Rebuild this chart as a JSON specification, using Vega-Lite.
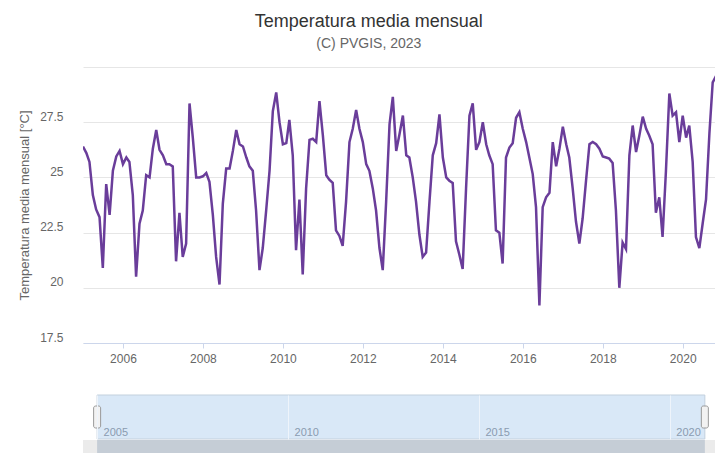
{
  "$schema": "https://vega.github.io/schema/vega-lite/v6.json",
  "background": "white",
  "padding": {"left": 18, "top": 13, "right": 0, "bottom": 0},
  "config": {"view": {"stroke": null}, "font": "Liberation Sans"},
  "title": {
    "text": "Temperatura media mensual",
    "subtitle": "(C) PVGIS, 2023",
    "anchor": "middle",
    "dx": 2,
    "fontSize": 18,
    "fontWeight": "normal",
    "color": "#333333",
    "subtitleFontSize": 14,
    "subtitleColor": "#666666",
    "subtitlePadding": 6,
    "offset": 16
  },
  "data": {"values": [
    {"date":"2005-01-01","t":26.4},{"date":"2005-02-01","t":26.1},{"date":"2005-03-01","t":25.7},{"date":"2005-04-01","t":24.2},{"date":"2005-05-01","t":23.55},{"date":"2005-06-01","t":23.2},{"date":"2005-07-01","t":20.9},{"date":"2005-08-01","t":24.7},{"date":"2005-09-01","t":23.3},{"date":"2005-10-01","t":25.3},{"date":"2005-11-01","t":25.95},{"date":"2005-12-01","t":26.2},
    {"date":"2006-01-01","t":25.6},{"date":"2006-02-01","t":25.9},{"date":"2006-03-01","t":25.7},{"date":"2006-04-01","t":24.2},{"date":"2006-05-01","t":20.5},{"date":"2006-06-01","t":22.9},{"date":"2006-07-01","t":23.5},{"date":"2006-08-01","t":25.1},{"date":"2006-09-01","t":25.0},{"date":"2006-10-01","t":26.3},{"date":"2006-11-01","t":27.15},{"date":"2006-12-01","t":26.25},
    {"date":"2007-01-01","t":26.0},{"date":"2007-02-01","t":25.6},{"date":"2007-03-01","t":25.6},{"date":"2007-04-01","t":25.5},{"date":"2007-05-01","t":21.2},{"date":"2007-06-01","t":23.4},{"date":"2007-07-01","t":21.4},{"date":"2007-08-01","t":22.0},{"date":"2007-09-01","t":28.35},{"date":"2007-10-01","t":26.8},{"date":"2007-11-01","t":25.0},{"date":"2007-12-01","t":25.0},
    {"date":"2008-01-01","t":25.05},{"date":"2008-02-01","t":25.2},{"date":"2008-03-01","t":24.8},{"date":"2008-04-01","t":23.3},{"date":"2008-05-01","t":21.4},{"date":"2008-06-01","t":20.15},{"date":"2008-07-01","t":23.8},{"date":"2008-08-01","t":25.4},{"date":"2008-09-01","t":25.4},{"date":"2008-10-01","t":26.2},{"date":"2008-11-01","t":27.15},{"date":"2008-12-01","t":26.5},
    {"date":"2009-01-01","t":26.4},{"date":"2009-02-01","t":25.9},{"date":"2009-03-01","t":25.5},{"date":"2009-04-01","t":25.3},{"date":"2009-05-01","t":23.5},{"date":"2009-06-01","t":20.8},{"date":"2009-07-01","t":21.8},{"date":"2009-08-01","t":23.5},{"date":"2009-09-01","t":25.3},{"date":"2009-10-01","t":28.0},{"date":"2009-11-01","t":28.85},{"date":"2009-12-01","t":27.5},
    {"date":"2010-01-01","t":26.5},{"date":"2010-02-01","t":26.55},{"date":"2010-03-01","t":27.6},{"date":"2010-04-01","t":26.0},{"date":"2010-05-01","t":21.7},{"date":"2010-06-01","t":24.0},{"date":"2010-07-01","t":20.6},{"date":"2010-08-01","t":24.5},{"date":"2010-09-01","t":26.7},{"date":"2010-10-01","t":26.75},{"date":"2010-11-01","t":26.6},{"date":"2010-12-01","t":28.45},
    {"date":"2011-01-01","t":26.9},{"date":"2011-02-01","t":25.1},{"date":"2011-03-01","t":24.9},{"date":"2011-04-01","t":24.75},{"date":"2011-05-01","t":22.6},{"date":"2011-06-01","t":22.35},{"date":"2011-07-01","t":21.9},{"date":"2011-08-01","t":23.9},{"date":"2011-09-01","t":26.6},{"date":"2011-10-01","t":27.2},{"date":"2011-11-01","t":28.05},{"date":"2011-12-01","t":27.2},
    {"date":"2012-01-01","t":26.6},{"date":"2012-02-01","t":25.6},{"date":"2012-03-01","t":25.3},{"date":"2012-04-01","t":24.5},{"date":"2012-05-01","t":23.5},{"date":"2012-06-01","t":21.8},{"date":"2012-07-01","t":20.8},{"date":"2012-08-01","t":23.9},{"date":"2012-09-01","t":27.4},{"date":"2012-10-01","t":28.65},{"date":"2012-11-01","t":26.2},{"date":"2012-12-01","t":26.95},
    {"date":"2013-01-01","t":27.8},{"date":"2013-02-01","t":26.0},{"date":"2013-03-01","t":25.9},{"date":"2013-04-01","t":25.0},{"date":"2013-05-01","t":23.9},{"date":"2013-06-01","t":22.4},{"date":"2013-07-01","t":21.4},{"date":"2013-08-01","t":21.6},{"date":"2013-09-01","t":23.9},{"date":"2013-10-01","t":26.0},{"date":"2013-11-01","t":26.55},{"date":"2013-12-01","t":27.85},
    {"date":"2014-01-01","t":25.9},{"date":"2014-02-01","t":25.0},{"date":"2014-03-01","t":24.85},{"date":"2014-04-01","t":24.75},{"date":"2014-05-01","t":22.1},{"date":"2014-06-01","t":21.5},{"date":"2014-07-01","t":20.85},{"date":"2014-08-01","t":24.5},{"date":"2014-09-01","t":27.8},{"date":"2014-10-01","t":28.35},{"date":"2014-11-01","t":26.25},{"date":"2014-12-01","t":26.6},
    {"date":"2015-01-01","t":27.5},{"date":"2015-02-01","t":26.5},{"date":"2015-03-01","t":26.0},{"date":"2015-04-01","t":25.6},{"date":"2015-05-01","t":22.6},{"date":"2015-06-01","t":22.5},{"date":"2015-07-01","t":21.1},{"date":"2015-08-01","t":25.9},{"date":"2015-09-01","t":26.35},{"date":"2015-10-01","t":26.55},{"date":"2015-11-01","t":27.7},{"date":"2015-12-01","t":27.95},
    {"date":"2016-01-01","t":27.2},{"date":"2016-02-01","t":26.6},{"date":"2016-03-01","t":25.9},{"date":"2016-04-01","t":25.15},{"date":"2016-05-01","t":23.65},{"date":"2016-06-01","t":19.2},{"date":"2016-07-01","t":23.65},{"date":"2016-08-01","t":24.1},{"date":"2016-09-01","t":24.3},{"date":"2016-10-01","t":26.6},{"date":"2016-11-01","t":25.5},{"date":"2016-12-01","t":26.3},
    {"date":"2017-01-01","t":27.3},{"date":"2017-02-01","t":26.5},{"date":"2017-03-01","t":25.9},{"date":"2017-04-01","t":24.5},{"date":"2017-05-01","t":23.0},{"date":"2017-06-01","t":22.0},{"date":"2017-07-01","t":23.15},{"date":"2017-08-01","t":24.85},{"date":"2017-09-01","t":26.5},{"date":"2017-10-01","t":26.6},{"date":"2017-11-01","t":26.5},{"date":"2017-12-01","t":26.3},
    {"date":"2018-01-01","t":25.95},{"date":"2018-02-01","t":25.9},{"date":"2018-03-01","t":25.85},{"date":"2018-04-01","t":25.65},{"date":"2018-05-01","t":23.5},{"date":"2018-06-01","t":20.0},{"date":"2018-07-01","t":22.05},{"date":"2018-08-01","t":21.75},{"date":"2018-09-01","t":26.0},{"date":"2018-10-01","t":27.35},{"date":"2018-11-01","t":26.15},{"date":"2018-12-01","t":26.9},
    {"date":"2019-01-01","t":27.75},{"date":"2019-02-01","t":27.2},{"date":"2019-03-01","t":26.9},{"date":"2019-04-01","t":26.5},{"date":"2019-05-01","t":23.4},{"date":"2019-06-01","t":24.1},{"date":"2019-07-01","t":22.3},{"date":"2019-08-01","t":25.3},{"date":"2019-09-01","t":28.8},{"date":"2019-10-01","t":27.8},{"date":"2019-11-01","t":27.95},{"date":"2019-12-01","t":26.6},
    {"date":"2020-01-01","t":27.8},{"date":"2020-02-01","t":26.8},{"date":"2020-03-01","t":27.35},{"date":"2020-04-01","t":25.7},{"date":"2020-05-01","t":22.3},{"date":"2020-06-01","t":21.8},{"date":"2020-07-01","t":22.9},{"date":"2020-08-01","t":24.0},{"date":"2020-09-01","t":27.0},{"date":"2020-10-01","t":29.3},{"date":"2020-11-01","t":29.6},{"date":"2020-12-01","t":28.6}
  ]},
  "resolve": {"scale": {"x": "independent", "y": "independent"}},
  "spacing": 30,
  "vconcat": [
    {
      "width": 632,
      "height": 276,
      "mark": {"type": "line", "color": "#6a3d9a", "strokeWidth": 2.5, "clip": true},
      "encoding": {
        "x": {
          "field": "date",
          "type": "temporal",
          "scale": {"type": "utc", "domain": [{"year": 2005, "month": 1, "date": 1, "utc": true}, {"year": 2020, "month": 10, "date": 22, "utc": true}]},
          "axis": {
            "title": null,
            "values": [
              {"year": 2006, "month": 1, "date": 1, "utc": true},
              {"year": 2008, "month": 1, "date": 1, "utc": true},
              {"year": 2010, "month": 1, "date": 1, "utc": true},
              {"year": 2012, "month": 1, "date": 1, "utc": true},
              {"year": 2014, "month": 1, "date": 1, "utc": true},
              {"year": 2016, "month": 1, "date": 1, "utc": true},
              {"year": 2018, "month": 1, "date": 1, "utc": true},
              {"year": 2020, "month": 1, "date": 1, "utc": true}
            ],
            "format": "%Y",
            "grid": false,
            "domainColor": "#ccd6eb",
            "tickColor": "#ccd6eb",
            "tickSize": 5,
            "labelPadding": 5,
            "labelColor": "#666666",
            "labelFontSize": 12
          }
        },
        "y": {
          "field": "t",
          "type": "quantitative",
          "scale": {"domain": [17.5, 30], "nice": false, "zero": false},
          "axis": {
            "title": "Temperatura media mensual [°C]",
            "titleColor": "#666666",
            "titleFontSize": 13,
            "titleFontWeight": "normal",
            "titlePadding": 8,
            "values": [17.5, 20, 22.5, 25, 27.5, 30],
            "labelExpr": "datum.value >= 30 ? '' : '' + datum.value",
            "labelColor": "#666666",
            "labelFontSize": 12,
            "labelPadding": 20,
            "labelBaseline": "alphabetic",
            "labelOffset": -2,
            "ticks": false,
            "domain": false,
            "gridColor": "#e6e6e6"
          }
        }
      }
    },
    {
      "spacing": 0,
      "vconcat": [
        {
          "width": 632,
          "height": 44,
          "layer": [
            {
              "mark": {"type": "rect", "color": "#d9e8f7", "stroke": "#c3d0dd", "strokeWidth": 1},
              "encoding": {
                "x": {
                  "aggregate": "min",
                  "field": "date",
                  "type": "temporal",
                  "scale": {"type": "utc", "domain": [{"year": 2004, "month": 8, "date": 19, "utc": true}, {"year": 2021, "month": 3, "date": 8, "utc": true}]},
                  "axis": {
                    "title": null,
                    "values": [
                      {"year": 2005, "month": 1, "date": 1, "utc": true},
                      {"year": 2010, "month": 1, "date": 1, "utc": true},
                      {"year": 2015, "month": 1, "date": 1, "utc": true},
                      {"year": 2020, "month": 1, "date": 1, "utc": true}
                    ],
                    "format": "%Y",
                    "domain": false,
                    "ticks": false,
                    "grid": true,
                    "gridColor": "#eef4fb",
                    "zindex": 1,
                    "labelAlign": "left",
                    "labelOffset": 6,
                    "labelBaseline": "alphabetic",
                    "labelPadding": -4,
                    "labelColor": "#8a9bb0",
                    "labelFontSize": 11
                  }
                },
                "x2": {"aggregate": "max", "field": "date"}
              }
            },
            {
              "mark": {"type": "tick", "orient": "vertical", "size": 22, "thickness": 7, "color": "#f2f2f2", "stroke": "#999999", "strokeWidth": 1, "cornerRadius": 2},
              "encoding": {"x": {"aggregate": "min", "field": "date", "type": "temporal"}}
            },
            {
              "mark": {"type": "tick", "orient": "vertical", "size": 22, "thickness": 7, "color": "#f2f2f2", "stroke": "#999999", "strokeWidth": 1, "cornerRadius": 2},
              "encoding": {"x": {"aggregate": "max", "field": "date", "type": "temporal"}}
            }
          ]
        },
        {
          "width": 632,
          "height": 15,
          "view": {"fill": "#ebebeb"},
          "mark": {"type": "rect", "color": "#c5cdd6"},
          "encoding": {
            "x": {
              "aggregate": "min",
              "field": "date",
              "type": "temporal",
              "scale": {"type": "utc", "domain": [{"year": 2004, "month": 8, "date": 19, "utc": true}, {"year": 2021, "month": 3, "date": 8, "utc": true}]},
              "axis": null
            },
            "x2": {"aggregate": "max", "field": "date"}
          }
        }
      ]
    }
  ]
}
